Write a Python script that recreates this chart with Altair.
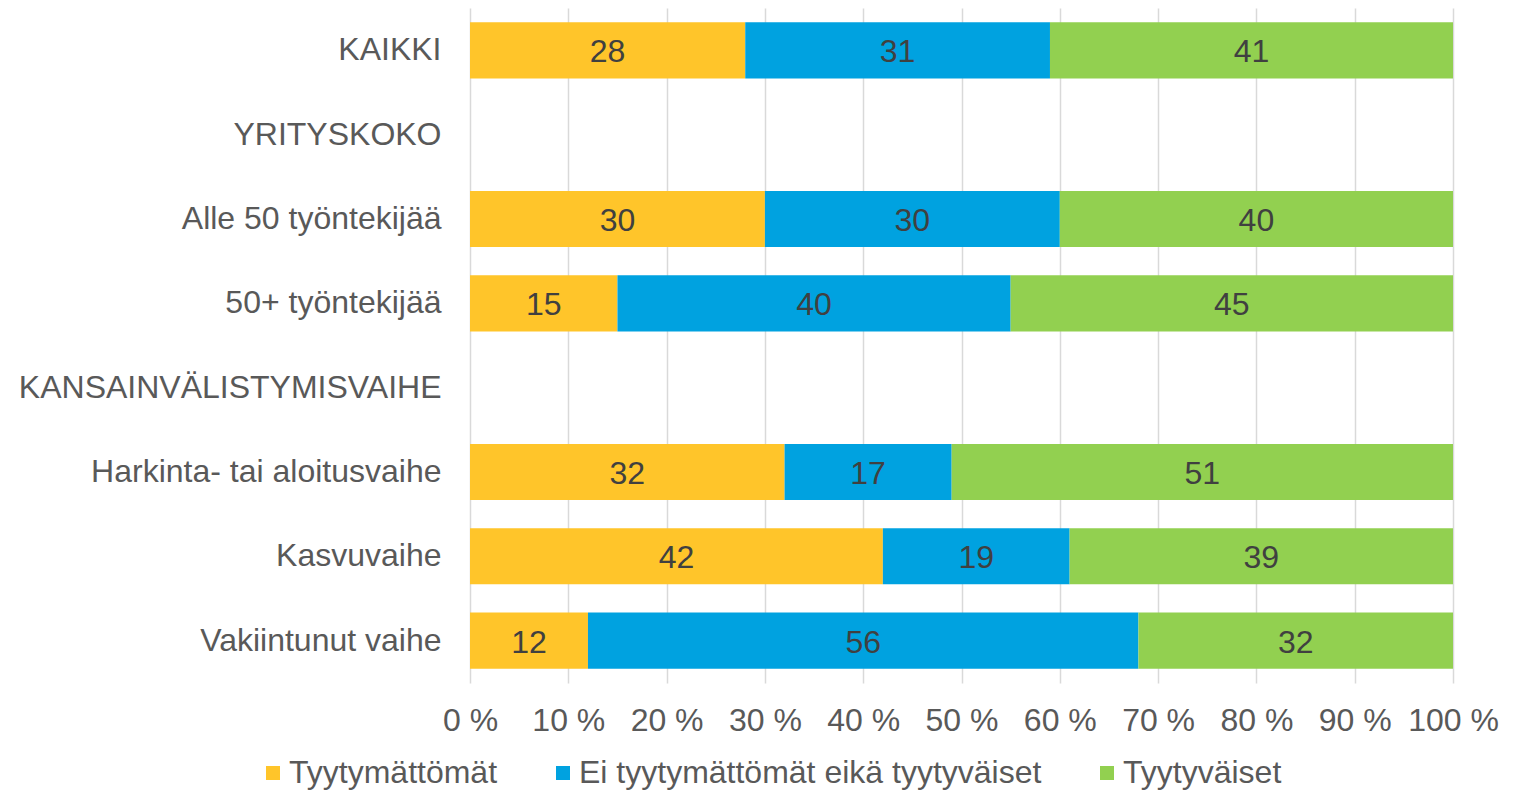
import altair as alt
import pandas as pd

categories = ["KAIKKI", "YRITYSKOKO", "Alle 50 työntekijää", "50+ työntekijää",
              "KANSAINVÄLISTYMISVAIHE", "Harkinta- tai aloitusvaihe", "Kasvuvaihe",
              "Vakiintunut vaihe"]
series = ["Tyytymättömät", "Ei tyytymättömät eikä tyytyväiset", "Tyytyväiset"]
tyytymattomat = [28, None, 30, 15, None, 32, 42, 12]
neutraalit = [31, None, 30, 40, None, 17, 19, 56]
tyytyvaiset = [41, None, 40, 45, None, 51, 39, 32]
colors = ["#FFC52A", "#00A2E0", "#92D050"]
x_ticks = [0, 10, 20, 30, 40, 50, 60, 70, 80, 90, 100]

rows = []
for s_i, (name, vals) in enumerate(zip(series, [tyytymattomat, neutraalit, tyytyvaiset])):
    for cat, v in zip(categories, vals):
        if v is not None:
            rows.append({"cat": cat, "series": name, "order": s_i, "value": v})
df = pd.DataFrame(rows)

FONT = "Liberation Sans"
FS = 32

base = alt.Chart(df).transform_stack(
    stack="value", groupby=["cat"], sort=[alt.SortField("order")], as_=["x0", "x1"]
).transform_calculate(mid="(datum.x0 + datum.x1) / 2")

y_enc = alt.Y("cat:N", sort=categories,
              scale=alt.Scale(domain=categories, paddingInner=0.335, paddingOuter=0.17),
              axis=alt.Axis(title=None, ticks=False, domain=False, labelPadding=29,
                            labelFontSize=FS, labelColor="#595959", labelFont=FONT,
                            labelLimit=700, grid=False))

bars = base.mark_bar().encode(
    x=alt.X("x0:Q", scale=alt.Scale(domain=[0, 100], nice=False),
            axis=alt.Axis(title=None, values=x_ticks, labelExpr="datum.value + ' %'",
                          grid=True, gridColor="#D9D9D9", gridWidth=1.5,
                          ticks=False, domain=False, labelPadding=22,
                          labelOverlap=False, labelFlush=False, labelBound=False,
                          labelAlign="center",
                          labelFontSize=FS, labelColor="#595959", labelFont=FONT)),
    x2="x1:Q",
    y=y_enc,
    color=alt.Color("series:N", scale=alt.Scale(domain=series, range=colors),
                    legend=alt.Legend(title=None, orient="none", legendX=-213, legendY=749,
                                      direction="horizontal", symbolType="square",
                                      symbolSize=196, symbolStrokeWidth=0,
                                      labelFontSize=FS, labelFont=FONT,
                                      labelColor="#595959", columnPadding=49,
                                      labelOffset=0, labelLimit=700)),
    order=alt.Order("order:Q"),
)

labels = base.mark_text(fontSize=FS, font=FONT, color="#404040", baseline="middle",
                        dy=2).encode(
    x="mid:Q",
    y=alt.Y("cat:N", sort=categories),
    text=alt.Text("value:Q"),
)

chart = alt.layer(bars, labels).properties(
    width=983, height=675,
    autosize=alt.AutoSizeParams(type="none"),
    padding={"left": 462, "top": 0, "right": 65, "bottom": 107},
).configure_view(stroke=None)

chart.save("out.html", embed_options={"renderer": "svg", "actions": False})
